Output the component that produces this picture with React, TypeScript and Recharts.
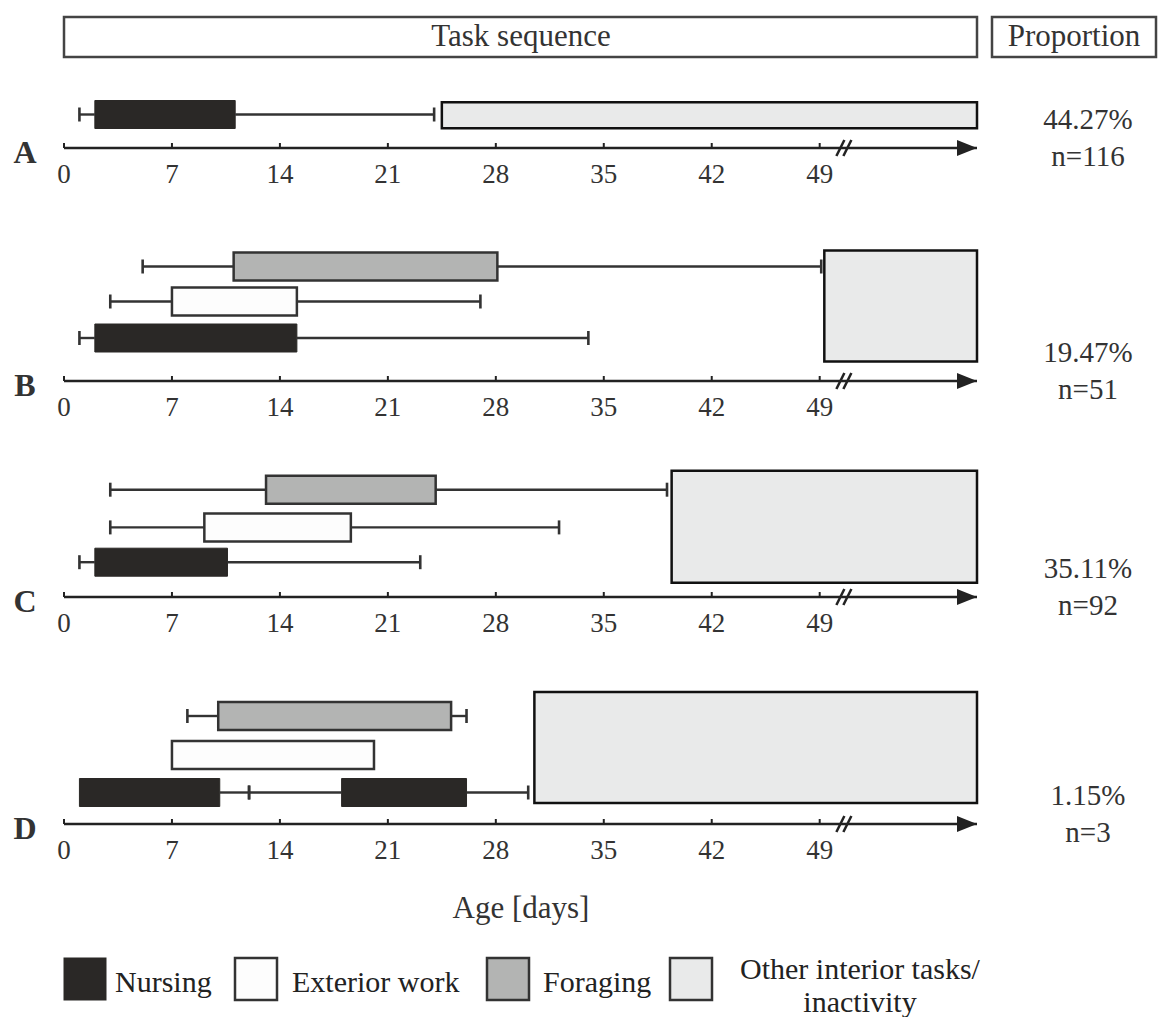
import React from 'react';
import {
  ComposedChart,
  XAxis,
  YAxis,
  ReferenceArea,
  ReferenceLine,
  ReferenceDot,
  Scatter,
} from 'recharts';

const FONT = '"Liberation Serif", "Times New Roman", Times, serif';

// ---------- data ----------
const panelLabels = ['A', 'B', 'C', 'D'];
const proportions = ['44.27%', '19.47%', '35.11%', '1.15%'];
const sampleSizes = ['n=116', 'n=51', 'n=92', 'n=3'];
const ageTicks = [0, 7, 14, 21, 28, 35, 42, 49];
const AGE_END = 59.2; // arrow end of the (broken) age axis
const AGE_BREAK = 50.6; // position of the axis break mark

// box stats per panel: [whiskerMin, q1, q3, whiskerMax] (days)
const nursingBoxes: number[][][] = [
  [[1, 2, 11.1, 24]],
  [[1, 2, 15.1, 34]],
  [[1, 2, 10.6, 23.1]],
  [[1, 1, 10.1, 12], [12, 18, 26.1, 30.1]],
];
const exteriorBoxes: number[][][] = [
  [],
  [[3, 7, 15.1, 27]],
  [[3, 9.1, 18.6, 32.1]],
  [[7, 7, 20.1, 20.1]],
];
const foragingBoxes: number[][][] = [
  [],
  [[5.1, 11, 28.1, 49.1]],
  [[3, 13.1, 24.1, 39.1]],
  [[8, 10, 25.1, 26.1]],
];
// start of "other interior tasks / inactivity" (runs to end of axis)
const otherStart = [24.5, 49.3, 39.4, 30.5];

const taskNames = ['Nursing', 'Exterior work', 'Foraging', 'Other interior tasks/', 'inactivity'];
const taskFills = ['#2a2826', '#fdfdfd', '#b3b4b3', '#e9eaea'];

// ---------- layout (px) ----------
const PLOT_H = 140;
const AXIS_H = 50;
const panelLayout = [
  { axisY: 147.5, rows: [33.5, 0, 0], other: [19.8, 45.8] },
  { axisY: 380.5, rows: [43, 79.5, 114.5], other: [19.5, 130.5] },
  { axisY: 597.3, rows: [34.8, 69.6, 107.3], other: [14.3, 126.3] },
  { axisY: 824, rows: [31.5, 69, 108], other: [21, 132] },
];
const BOX_HALF = 14;
const CAP_HALF = 7;
const WHISKER = '#333';

const boxStyles = [
  { fill: taskFills[0], stroke: '#2a2826', strokeWidth: 1 },
  { fill: taskFills[1], stroke: '#333', strokeWidth: 2.5 },
  { fill: taskFills[2], stroke: '#333', strokeWidth: 2.5 },
  { fill: taskFills[3], stroke: '#111', strokeWidth: 2.5 },
];

function renderBoxes(boxes: number[][], yc: number, style: any, keyBase: string) {
  const out: any[] = [];
  boxes.forEach((b, i) => {
    const [mn, q1, q3, mx] = b;
    const k = `${keyBase}-${i}`;
    if (mn < q1) {
      out.push(
        <ReferenceLine key={k + 'wl'} segment={[{ x: mn, y: yc }, { x: q1, y: yc }]} stroke={WHISKER} strokeWidth={2.4} ifOverflow="visible" />,
        <ReferenceLine key={k + 'cl'} segment={[{ x: mn, y: yc - CAP_HALF }, { x: mn, y: yc + CAP_HALF }]} stroke={WHISKER} strokeWidth={2.6} ifOverflow="visible" />
      );
    }
    if (mx > q3) {
      out.push(
        <ReferenceLine key={k + 'wr'} segment={[{ x: q3, y: yc }, { x: mx, y: yc }]} stroke={WHISKER} strokeWidth={2.4} ifOverflow="visible" />,
        <ReferenceLine key={k + 'cr'} segment={[{ x: mx, y: yc - CAP_HALF }, { x: mx, y: yc + CAP_HALF }]} stroke={WHISKER} strokeWidth={2.6} ifOverflow="visible" />
      );
    }
    out.push(
      <ReferenceArea
        key={k + 'box'}
        x1={q1}
        x2={q3}
        y1={yc - BOX_HALF}
        y2={yc + BOX_HALF}
        fill={style.fill}
        fillOpacity={1}
        stroke={style.stroke}
        strokeWidth={style.strokeWidth}
        ifOverflow="visible"
      />
    );
  });
  return out;
}

const ArrowHead = (p: any) => {
  const { cx, cy } = p;
  if (cx == null || cy == null) return <g />;
  return <polygon points={`${cx},${cy} ${cx - 20},${cy - 8} ${cx - 20},${cy + 8}`} fill="#222" />;
};

const BreakMark = (p: any) => {
  const { cx, cy } = p;
  if (cx == null || cy == null) return <g />;
  return (
    <g stroke="#222" strokeWidth={2.5}>
      <line x1={cx - 8} y1={cy + 8} x2={cx} y2={cy - 8} />
      <line x1={cx - 1} y1={cy + 8} x2={cx + 7} y2={cy - 8} />
    </g>
  );
};

function Panel({ index }: { index: number }) {
  const L = panelLayout[index];
  const dummy = [{ x: 0, y: 0 }];
  return (
    <div style={{ position: 'absolute', left: 0, top: L.axisY - PLOT_H, width: 1162, height: PLOT_H + AXIS_H }}>
      <ComposedChart
        width={1162}
        height={PLOT_H + AXIS_H}
        margin={{ top: 0, right: 185, bottom: 0, left: 64 }}
        data={dummy}
      >
        <XAxis
          type="number"
          dataKey="x"
          domain={[0, AGE_END]}
          ticks={ageTicks}
          interval={0}
          allowDataOverflow
          height={AXIS_H}
          tickSize={-5}
          tickMargin={21}
          axisLine={{ stroke: '#222', strokeWidth: 2.5 }}
          tickLine={{ stroke: '#222', strokeWidth: 2 }}
          tick={{ fontSize: 27, fill: '#333', fontFamily: FONT }}
        />
        <YAxis type="number" dataKey="y" domain={[0, PLOT_H]} hide allowDataOverflow />
        <Scatter data={dummy} fill="transparent" stroke="none" isAnimationActive={false} />
        <ReferenceArea
          x1={otherStart[index]}
          x2={AGE_END}
          y1={L.other[0]}
          y2={L.other[1]}
          fill={boxStyles[3].fill}
          fillOpacity={1}
          stroke={boxStyles[3].stroke}
          strokeWidth={boxStyles[3].strokeWidth}
          ifOverflow="visible"
        />
        {renderBoxes(foragingBoxes[index], L.rows[2], boxStyles[2], `f${index}`)}
        {renderBoxes(exteriorBoxes[index], L.rows[1], boxStyles[1], `e${index}`)}
        {renderBoxes(nursingBoxes[index], L.rows[0], boxStyles[0], `n${index}`)}
        <ReferenceDot x={AGE_BREAK} y={0} ifOverflow="visible" shape={BreakMark} />
        <ReferenceDot x={AGE_END} y={0} ifOverflow="visible" shape={ArrowHead} />
      </ComposedChart>
    </div>
  );
}

export default function App() {
  const legendSwatchX = [64, 235, 487, 670];
  const legendTextX = [115, 292, 543];
  return (
    <div style={{ position: 'absolute', left: 0, top: 0, width: 1162, height: 1017, background: '#fff' }}>
      <svg width={1162} height={1017} style={{ position: 'absolute', left: 0, top: 0 }} fontFamily={FONT}>
        {/* header boxes */}
        <rect x={64} y={17} width={913} height={40} fill="#fff" stroke="#444" strokeWidth={2.5} />
        <text x={521} y={46} textAnchor="middle" fontSize={31} fill="#333">Task sequence</text>
        <rect x={992} y={17} width={164} height={40} fill="#fff" stroke="#444" strokeWidth={2.5} />
        <text x={1074} y={46} textAnchor="middle" fontSize={31} fill="#333">Proportion</text>

        {panelLayout.map((L, i) => (
          <g key={i}>
            <text x={25} y={L.axisY + 15} textAnchor="middle" fontSize={32} fontWeight="bold" fill="#333">
              {panelLabels[i]}
            </text>
            <text x={1088} y={L.axisY - 19} textAnchor="middle" fontSize={29} fill="#333">{proportions[i]}</text>
            <text x={1088} y={L.axisY + 18} textAnchor="middle" fontSize={29} fill="#333">{sampleSizes[i]}</text>
          </g>
        ))}

        <text x={521} y={918} textAnchor="middle" fontSize={31} fill="#333">Age [days]</text>

        {/* legend */}
        {legendSwatchX.map((x, i) => (
          <rect
            key={i}
            x={x}
            y={958}
            width={42}
            height={42}
            fill={taskFills[i]}
            stroke={i === 0 ? '#2a2826' : '#333'}
            strokeWidth={i === 0 ? 1 : 2.5}
          />
        ))}
        {legendTextX.map((x, i) => (
          <text key={i} x={x} y={992} fontSize={30} fill="#222">{taskNames[i]}</text>
        ))}
        <text x={860} y={979} textAnchor="middle" fontSize={30} fill="#222">{taskNames[3]}</text>
        <text x={860} y={1012} textAnchor="middle" fontSize={30} fill="#222">{taskNames[4]}</text>
      </svg>
      {panelLayout.map((_, i) => (
        <Panel key={i} index={i} />
      ))}
    </div>
  );
}
